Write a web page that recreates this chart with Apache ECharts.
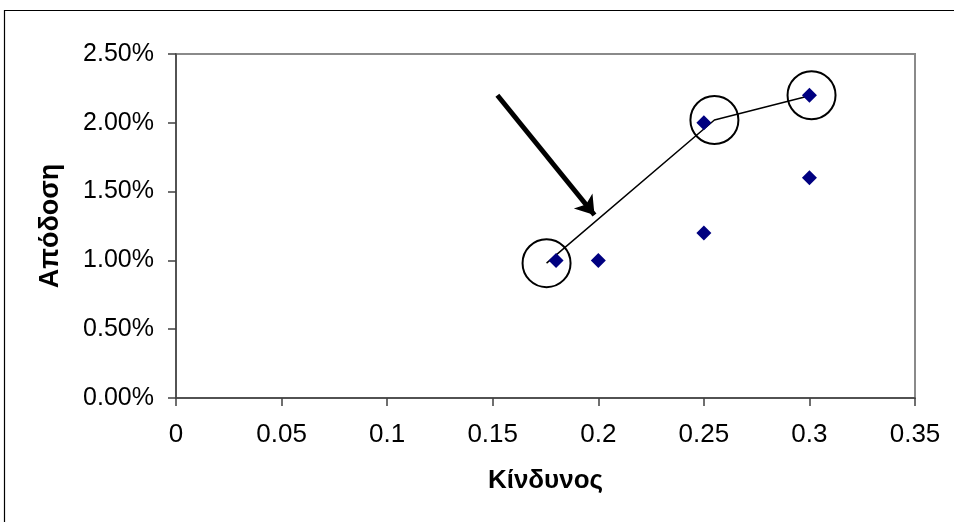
<!DOCTYPE html>
<html>
<head>
<meta charset="utf-8">
<script src="https://cdn.jsdelivr.net/npm/echarts@6/dist/echarts.min.js"></script>
<style>
  html, body { margin: 0; padding: 0; background: #fff; }
  #chart { width: 954px; height: 522px; }
</style>
</head>
<body>
<div id="chart"></div>
<script>
// Portfolios: risk (x) vs return in % (y)
const riskValues   = [0.18, 0.20, 0.25, 0.25, 0.30, 0.30];
const returnValues = [1.00, 1.00, 1.20, 2.00, 2.20, 1.60];

// Efficient frontier vertices (circled) and the pointer arrow
const frontierRisk   = [0.1755, 0.255, 0.301];
const frontierReturn = [0.98, 2.02, 2.20];
const arrowRisk   = [0.1522, 0.1982];
const arrowReturn = [2.20, 1.33];

const xTitle = 'Κίνδυνος';
const yTitle = 'Απόδοση';

const points = riskValues.map((r, i) => [r, returnValues[i]]);
const frontier = frontierRisk.map((r, i) => [r, frontierReturn[i]]);
const arrowCoords = arrowRisk.map((r, i) => [r, arrowReturn[i]]);

const font = '"Liberation Sans", Arial, sans-serif';
const chart = echarts.init(document.getElementById('chart'), null, { renderer: 'canvas' });

chart.setOption({
  animation: false,
  backgroundColor: '#fff',
  graphic: [{
    type: 'rect',
    shape: { x: 4.5, y: 10.5, width: 1000, height: 600 },
    style: { fill: 'none', stroke: '#000', lineWidth: 1.2 },
    silent: true
  }],
  grid: {
    left: 176, top: 54, right: 39, bottom: 124,
    show: true, borderColor: '#8a8a8a', borderWidth: 2,
    outerBoundsMode: 'none'
  },
  xAxis: {
    type: 'value', min: 0, max: 0.35, interval: 0.05,
    name: xTitle, nameLocation: 'middle', nameGap: 70,
    nameTextStyle: { fontFamily: font, fontWeight: 'bold', fontSize: 26, color: '#000' },
    axisLine: { show: true, onZero: false, lineStyle: { color: '#404040', width: 1.5 } },
    axisTick: { show: true, length: 8, lineStyle: { color: '#404040', width: 1.5 } },
    splitLine: { show: false },
    axisLabel: { fontFamily: font, fontSize: 26, color: '#000', margin: 24 }
  },
  yAxis: {
    type: 'value', min: 0, max: 2.5, interval: 0.5,
    name: yTitle, nameLocation: 'middle', nameGap: 112, nameRotate: 90,
    nameTextStyle: { fontFamily: font, fontWeight: 'bold', fontSize: 27, color: '#000' },
    axisLine: { show: true, onZero: false, lineStyle: { color: '#404040', width: 1.5 } },
    axisTick: { show: true, length: 8, lineStyle: { color: '#404040', width: 1.5 } },
    splitLine: { show: false },
    axisLabel: {
      fontFamily: font, fontSize: 25, color: '#000', margin: 22,
      formatter: v => v.toFixed(2) + '%'
    }
  },
  series: [
    {
      type: 'line',
      data: frontier,
      showSymbol: false,
      lineStyle: { color: '#000', width: 1.5 },
      z: 2
    },
    {
      type: 'scatter',
      data: points,
      symbol: 'diamond',
      symbolSize: 15,
      itemStyle: { color: '#000080', opacity: 1 },
      z: 3
    },
    {
      type: 'scatter',
      data: frontier,
      symbol: 'circle',
      symbolSize: 48,
      itemStyle: { color: 'rgba(0,0,0,0)', borderColor: '#000', borderWidth: 2, opacity: 1 },
      z: 4
    },
    {
      type: 'lines',
      coordinateSystem: 'cartesian2d',
      polyline: false,
      symbol: ['none', 'arrow'],
      symbolSize: [16, 18],
      lineStyle: { color: '#000', width: 5, opacity: 1 },
      data: [{ coords: arrowCoords }],
      z: 5
    }
  ]
});
</script>
</body>
</html>
